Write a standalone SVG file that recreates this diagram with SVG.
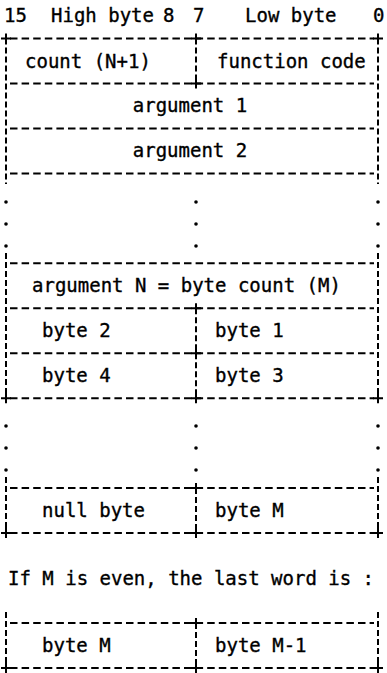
<svg xmlns="http://www.w3.org/2000/svg" width="387" height="673" viewBox="0 0 387 673">
<style>
text{font-family:"DejaVu Sans Mono","Liberation Mono",monospace;font-size:19px;fill:#000;stroke:#000;stroke-width:0.35}
.h{stroke:#000;stroke-width:2;stroke-dasharray:7.5 4.1;fill:none}
.v{stroke:#000;stroke-width:2;stroke-dasharray:6 3;fill:none}
.p{stroke:#000;stroke-width:2;fill:none}
.d{fill:#000}
</style>
<rect width="387" height="673" fill="#fff"/>
<g id="header">
<text x="4" y="22">15</text>
<text x="51" y="22">High byte</text>
<text x="163" y="22">8</text>
<text x="193" y="22">7</text>
<text x="245" y="22">Low byte</text>
<text x="373" y="22">0</text>
</g>
<g id="connectors">
<path class="h" d="M10 38.5H374M10 83.4H374M10 128.4H374M10 173.4H374M10 263.3H374M10 308.2H374M10 353.2H374M10 398.2H374M10 488.1H374M10 533H374M10 623H374M10 668H374"/>
<path class="v" d="M6 38.5V184M6 253V398.2M6 477V533M6 612V668"/>
<path class="v" d="M378 38.5V184M378 253V398.2M378 477V533M378 612V668"/>
<path class="v" d="M196 38.5V83.4M196 308.2V398.2M196 488.1V533M196 623V668"/>
<path class="p" d="M1 38.5H11M6 33.5V43.5M191 38.5H201M196 33.5V43.5M373 38.5H383M378 33.5V43.5M191 83.4H201M196 78.4V88.4M191 308.2H201M196 303.2V313.2M191 353.2H201M196 348.2V358.2M1 398.2H11M6 393.2V403.2M191 398.2H201M196 393.2V403.2M373 398.2H383M378 393.2V403.2M191 488.1H201M196 483.1V493.1M1 533H11M6 528V538M191 533H201M196 528V538M373 533H383M378 528V538M191 623H201M196 618V628M1 668H11M6 663V673M191 668H201M196 663V673M373 668H383M378 663V673"/>
<g class="d">
<circle cx="6" cy="202" r="1.8"/><circle cx="196" cy="202" r="1.8"/><circle cx="378" cy="202" r="1.8"/>
<circle cx="6" cy="224" r="1.8"/><circle cx="196" cy="224" r="1.8"/><circle cx="378" cy="224" r="1.8"/>
<circle cx="6" cy="246" r="1.8"/><circle cx="196" cy="246" r="1.8"/><circle cx="378" cy="246" r="1.8"/>
<circle cx="6" cy="426" r="1.8"/><circle cx="196" cy="426" r="1.8"/><circle cx="378" cy="426" r="1.8"/>
<circle cx="6" cy="448" r="1.8"/><circle cx="196" cy="448" r="1.8"/><circle cx="378" cy="448" r="1.8"/>
<circle cx="6" cy="470" r="1.8"/><circle cx="196" cy="470" r="1.8"/><circle cx="378" cy="470" r="1.8"/>
</g>
</g>
<g id="count"><text x="25" y="67.5">count (N+1)</text></g>
<g id="function-code"><text x="217" y="67.5">function code</text></g>
<g id="argument-1"><text x="190" y="112.4" text-anchor="middle">argument 1</text></g>
<g id="argument-2"><text x="190" y="157.4" text-anchor="middle">argument 2</text></g>
<g id="argument-n"><text x="32" y="292.3">argument N = byte count (M)</text></g>
<g id="byte-2"><text x="42" y="337.2">byte 2</text></g>
<g id="byte-1"><text x="215" y="337.2">byte 1</text></g>
<g id="byte-4"><text x="42" y="382.2">byte 4</text></g>
<g id="byte-3"><text x="215" y="382.2">byte 3</text></g>
<g id="null-byte"><text x="42" y="517">null byte</text></g>
<g id="byte-m"><text x="215" y="517">byte M</text></g>
<g id="note"><text x="8" y="584.5">If M is even, the last word is :</text></g>
<g id="last-byte-m"><text x="42" y="652">byte M</text></g>
<g id="last-byte-m-1"><text x="215" y="652">byte M-1</text></g>
</svg>
